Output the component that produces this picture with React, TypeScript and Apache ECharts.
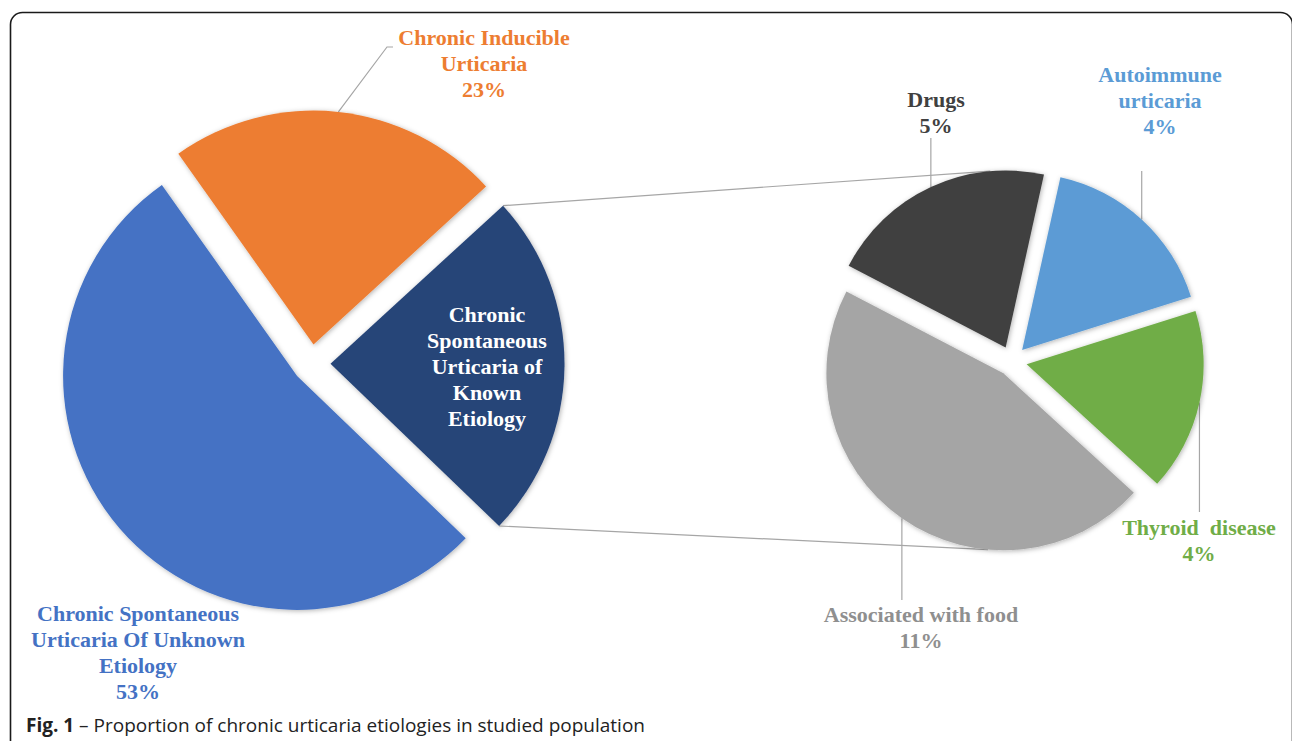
import React, { useEffect, useRef } from "react";
import * as echarts from "echarts";

// ---------- data ----------
const mainNames = [
  "Chronic Inducible Urticaria",
  "Chronic Spontaneous Urticaria of Known Etiology",
  "Chronic Spontaneous Urticaria Of Unknown Etiology",
];
const mainValues = [23, 24, 53];
const mainLabels = [
  "Chronic Inducible\nUrticaria",
  "Chronic\nSpontaneous\nUrticaria of\nKnown\nEtiology",
  "Chronic Spontaneous\nUrticaria Of Unknown\nEtiology",
];
const mainShowPct = [true, false, true];
const mainColors = ["#ED7D31", "#264478", "#4472C4"];
const mainLabelColors = ["#ED7D31", "#FFFFFF", "#4472C4"];

const subNames = ["Drugs", "Autoimmune urticaria", "Thyroid disease", "Associated with food"];
const subValues = [5, 4, 4, 11];
const subLabels = ["Drugs", "Autoimmune\nurticaria", "Thyroid  disease", "Associated with food"];
const subColors = ["#404040", "#5B9BD5", "#70AD47", "#A5A5A5"];
const subLabelColors = ["#404040", "#5B9BD5", "#70AD47", "#8F8F8F"];

const captionBold = "Fig. 1";
const caption = "Proportion of chronic urticaria etiologies in studied population";

// ---------- layout ----------
const W = 1292;
const H = 741;
const mainCenter = [311.5, 363.5];
const mainR = 234;
const mainStart = 125.3;
const mainOffset = 19;
const subCenter = [1012, 361];
const subR = 177;
const subStart = 152.5;
const subOffset = 15;

const mainLabelPos = [
  [484, 63],
  [487, 366],
  [138, 652],
];
const subLabelPos = [
  [936, 112],
  [1160, 100],
  [1199, 540],
  [921, 627],
];

const rad = (d: number) => (d * Math.PI) / 180;

function slices(values: number[], start: number) {
  const total = values.reduce((a, b) => a + b, 0);
  let acc = 0;
  return values.map((v) => {
    const s = start - (360 * acc) / total;
    acc += v;
    const e = start - (360 * acc) / total;
    return { s, e, m: (s + e) / 2 };
  });
}

function edgePoint(center: number[], r: number, off: number, mid: number, a: number) {
  return [
    center[0] + off * Math.cos(rad(mid)) + r * Math.cos(rad(a)),
    center[1] - off * Math.sin(rad(mid)) - r * Math.sin(rad(a)),
  ];
}

const serif = "'Liberation Serif', 'Times New Roman', serif";

export default function App() {
  const ref = useRef<HTMLDivElement>(null);

  useEffect(() => {
    if (!ref.current) return;
    const chart = echarts.init(ref.current, undefined, { renderer: "svg" });

    const ms = slices(mainValues, mainStart);
    const ss = slices(subValues, subStart);
    const lineStyle = { stroke: "#A6A6A6", lineWidth: 1.2 };

    const mainTotal = mainValues.reduce((a, b) => a + b, 0);
    const subTotal = subValues.reduce((a, b) => a + b, 0);
    const grandTotal = mainTotal; // sub pie splits the "known etiology" share
    const subScale = mainValues[1] / subTotal;

    // connector lines between the known-etiology slice and the second pie
    const known = ms[1];
    const c1 = edgePoint(mainCenter, mainR, mainOffset, known.m, known.s);
    const c2 = edgePoint(mainCenter, mainR, mainOffset, known.m, known.e);
    const t = edgePoint(subCenter, subR, subOffset, ss[0].m, 95);
    const b = edgePoint(subCenter, subR, subOffset, ss[3].m, -95);

    // label leader lines
    const ciuStart = edgePoint(mainCenter, mainR, mainOffset, ms[0].m, ms[0].m);
    const subStarts = ss.map((g) => edgePoint(subCenter, subR, subOffset, g.m, g.m));
    const subEnds = [138, 171, 512, 600];

    const shadow = {
      shadowBlur: 5,
      shadowColor: "rgba(0,0,0,0.3)",
      shadowOffsetX: 1,
      shadowOffsetY: 1,
    };

    const textEl = (txt: string, pos: number[], color: string) => ({
      type: "text",
      x: pos[0],
      y: pos[1],
      z: 100,
      style: {
        text: txt,
        fontFamily: serif,
        fontWeight: "bold",
        fontSize: 22,
        lineHeight: 26,
        fill: color,
        align: "center",
        verticalAlign: "middle",
      },
    });

    const mainTexts = mainLabels.map((l, i) =>
      textEl(
        mainShowPct[i] ? `${l}\n${Math.round((mainValues[i] / grandTotal) * 100)}%` : l,
        mainLabelPos[i],
        mainLabelColors[i]
      )
    );
    const subTexts = subLabels.map((l, i) =>
      textEl(
        `${l}\n${Math.round(((subValues[i] * subScale) / grandTotal) * 100)}%`,
        subLabelPos[i],
        subLabelColors[i]
      )
    );

    const mkData = (names: string[], values: number[], colors: string[]) =>
      names.map((n, i) => ({
        name: n,
        value: values[i],
        selected: true,
        itemStyle: { color: colors[i] },
        select: { itemStyle: { color: colors[i] } },
      }));

    const pieBase = {
      type: "pie",
      clockwise: true,
      selectedMode: "multiple",
      avoidLabelOverlap: false,
      emphasis: { disabled: true },
      itemStyle: { ...shadow },
      label: { show: false },
      labelLine: { show: false },
    };

    chart.setOption({
      animation: false,
      backgroundColor: "#ffffff",
      graphic: [
        {
          type: "rect",
          shape: { x: 10.5, y: 12.5, width: 1282, height: 760, r: 12 },
          style: { fill: "none", stroke: "#1a1a1a", lineWidth: 1.6 },
          z: 0,
        },
        { type: "line", shape: { x1: c1[0], y1: c1[1], x2: t[0], y2: t[1] }, style: lineStyle, z: 0 },
        { type: "line", shape: { x1: c2[0], y1: c2[1], x2: b[0], y2: b[1] }, style: lineStyle, z: 0 },
        {
          type: "polyline",
          shape: { points: [ciuStart, [387, 47], [393, 47]] },
          style: { ...lineStyle, fill: "none" },
          z: 0,
        },
        ...subStarts.map((p, i) => ({
          type: "line",
          shape: { x1: p[0], y1: p[1], x2: p[0], y2: subEnds[i] },
          style: lineStyle,
          z: 0,
        })),
        ...mainTexts,
        ...subTexts,
        {
          type: "text",
          x: 26,
          y: 725,
          style: {
            text: `{b|${captionBold}} – ${caption}`,
            fontFamily: "'Open Sans', 'Noto Sans', sans-serif",
            fontSize: 19,
            fill: "#222",
            verticalAlign: "middle",
            rich: {
              b: { fontWeight: "bold", fontSize: 19, fontFamily: "'Open Sans', 'Noto Sans', sans-serif", fill: "#222" },
            },
          },
        },
      ],
      series: [
        {
          ...pieBase,
          center: mainCenter,
          radius: mainR,
          startAngle: mainStart,
          selectedOffset: mainOffset,
          data: mkData(mainNames, mainValues, mainColors),
        },
        {
          ...pieBase,
          center: subCenter,
          radius: subR,
          startAngle: subStart,
          selectedOffset: subOffset,
          data: mkData(subNames, subValues, subColors),
        },
      ],
    });

    return () => chart.dispose();
  }, []);

  return (
    <div
      ref={ref}
      style={{ position: "fixed", left: 0, top: 0, width: W, height: H, background: "#fff" }}
    />
  );
}
